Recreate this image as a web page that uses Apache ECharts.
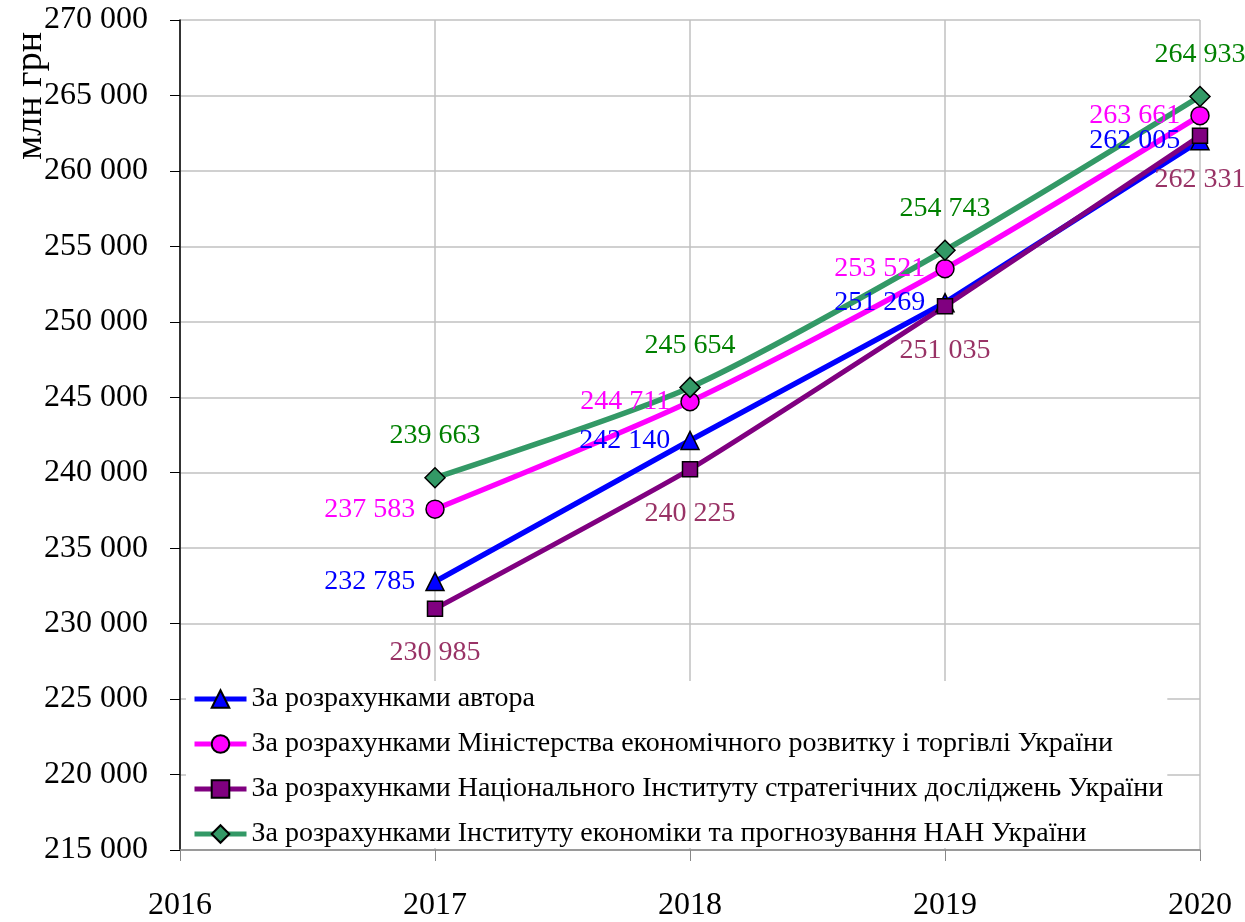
<!DOCTYPE html>
<html>
<head>
<meta charset="utf-8">
<script src="https://cdn.jsdelivr.net/npm/echarts@6/dist/echarts.min.js"></script>
<style>
  html, body { margin: 0; padding: 0; background: #fff; }
  #chart { width: 1245px; height: 922px; }
</style>
</head>
<body>
<div id="chart"></div>
<script>
const years = [2017, 2018, 2019, 2020];
const author = [232785, 242140, 251269, 262005];
const ministry = [237583, 244711, 253521, 263661];
const nisd = [230985, 240225, 251035, 262331];
const ief = [239663, 245654, 254743, 264933];
const seriesNames = [
  'За розрахунками автора',
  'За розрахунками Міністерства економічного розвитку і торгівлі України',
  'За розрахунками Національного Інституту стратегічних досліджень України',
  'За розрахунками Інституту економіки та прогнозування НАН України'
];

const FONT = '"Liberation Serif", "Times New Roman", serif';
const fmt = v => String(v).replace(/\B(?=(\d{3})+(?!\d))/g, ' ');
const pairs = arr => years.map((y, i) => [y, arr[i]]);

let chart = echarts.init(document.getElementById('chart'));

function line(name, data, color, labelColor, symbol, symbolSize, width, labelPos, labelDist, smooth) {
  return {
    name: name,
    type: 'line',
    data: pairs(data),
    smooth: smooth,
    symbol: symbol,
    symbolSize: symbolSize,
    lineStyle: {color: color, width: width},
    itemStyle: {color: color, borderColor: '#000', borderWidth: 1.5},
    label: {
      show: true,
      position: labelPos,
      distance: labelDist,
      color: labelColor,
      fontFamily: FONT,
      fontSize: 28,
      formatter: p => fmt(p.value[1])
    },
    emphasis: {disabled: true},
    animation: false
  };
}

chart.setOption({
  backgroundColor: '#fff',
  grid: {left: 180, right: 45, top: 20, bottom: 72},
  xAxis: {
    type: 'value',
    min: 2016,
    max: 2020,
    interval: 1,
    axisLine: {lineStyle: {color: '#888', width: 1.5}},
    axisTick: {show: true, inside: false, length: 11, lineStyle: {color: '#888'}},
    axisLabel: {color: '#000', fontFamily: FONT, fontSize: 32, margin: 40, formatter: v => String(v)},
    splitLine: {show: true, lineStyle: {color: '#c0c0c0', width: 1.5}}
  },
  yAxis: {
    type: 'value',
    min: 215000,
    max: 270000,
    interval: 5000,
    axisLine: {show: true, lineStyle: {color: '#000', width: 1.5}},
    axisTick: {show: true, inside: false, length: 10, lineStyle: {color: '#000'}},
    axisLabel: {color: '#000', fontFamily: FONT, fontSize: 32, margin: 32, formatter: v => fmt(v)},
    splitLine: {show: true, lineStyle: {color: '#c0c0c0', width: 1.5}}
  },
  legend: {
    orient: 'vertical',
    left: 186,
    top: 681,
    itemWidth: 52,
    itemHeight: 22,
    itemGap: 17,
    padding: [4, 4, 0, 6],
    backgroundColor: '#fff',
    lineStyle: {width: 5},
    textStyle: {color: '#000', fontFamily: FONT, fontSize: 28, lineHeight: 22},
    data: seriesNames
  },
  graphic: [{
    type: 'text',
    left: 12,
    top: 32,
    rotation: Math.PI / 2,
    style: {text: 'млн грн', font: '38px ' + FONT, fill: '#000'}
  }],
  series: [
    line(seriesNames[0], author, '#0000ff', '#0000ff', 'triangle', 18, 5.5, 'left', 10, false),
    line(seriesNames[1], ministry, '#ff00ff', '#ff00ff', 'circle', 18, 5.5, 'left', 10, 0.25),
    line(seriesNames[2], nisd, '#800080', '#993366', 'rect', 15, 5, 'bottom', 22, 0.15),
    line(seriesNames[3], ief, '#339966', '#008000', 'diamond', 20, 5.5, 'top', 17, 0.25)
  ]
});
</script>
</body>
</html>
